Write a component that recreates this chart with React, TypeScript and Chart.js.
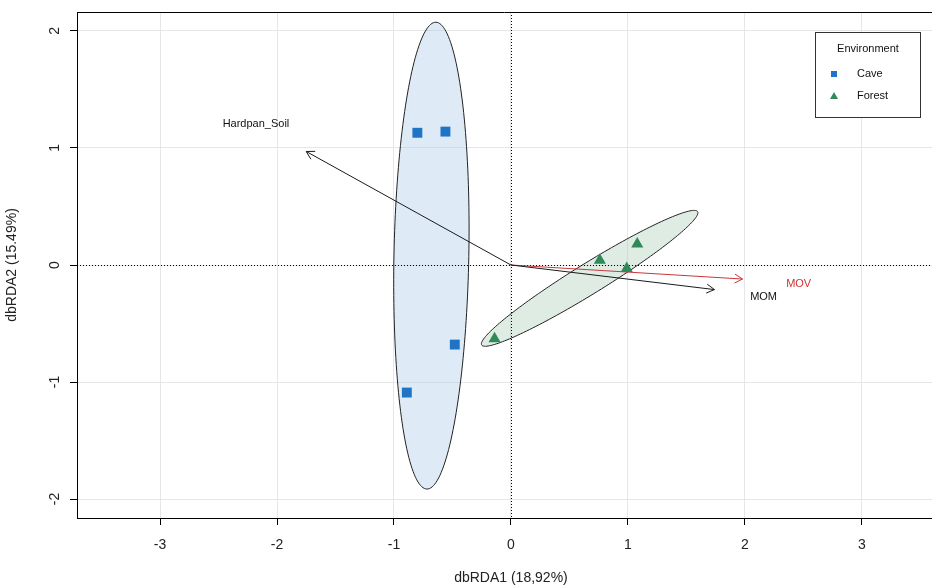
import { useEffect, useRef } from 'react';
import { Chart, registerables } from 'chart.js';

Chart.register(...registerables);

// ---- data ----
const groups = ['Cave', 'Forest'];
const groupColors = ['#1f74c6', '#2e8b57'];
const caveX = [-0.80, -0.56, -0.48, -0.89];
const caveY = [1.13, 1.14, -0.68, -1.09];
const forestX = [-0.14, 0.76, 0.99, 1.08];
const forestY = [-0.63, 0.04, -0.03, 0.18];

const vectorNames = ['Hardpan_Soil', 'MOM', 'MOV'];
const vectorX = [-1.75, 1.74, 1.98];
const vectorY = [0.97, -0.21, -0.12];
const vectorColors = ['#1a1a1a', '#1a1a1a', '#c8373a'];
const vectorLabelX = [-2.18, 2.16, 2.46];
const vectorLabelY = [1.205, -0.275, -0.16];

// ellipse: centerX, centerY, semi-major, semi-minor, angle (deg)
const caveEllipse = [-0.68, 0.08, 1.995, 0.32, 88.9];
const forestEllipse = [0.673, -0.114, 1.085, 0.13, 31.7];
const ellipseFills = ['rgba(161,198,232,0.35)', 'rgba(172,206,184,0.38)'];

const xTicks = [-3, -2, -1, 0, 1, 2, 3];
const yTicks = [-2, -1, 0, 1, 2];
const xRange = [-3.71, 3.6];
const yRange = [-2.162, 2.162];
const xTitle = 'dbRDA1 (18,92%)';
const yTitle = 'dbRDA2 (15.49%)';
const legendTitle = 'Environment';

const FONT = '"Liberation Sans", Arial, sans-serif';

function ellipsePath(ctx: CanvasRenderingContext2D, xs: any, ys: any, e: number[]) {
  const [cx, cy, a, b, ang] = e;
  const t = (ang * Math.PI) / 180;
  ctx.beginPath();
  const n = 180;
  for (let i = 0; i <= n; i++) {
    const th = (i / n) * Math.PI * 2;
    const ux = a * Math.cos(th);
    const uy = b * Math.sin(th);
    const dx = cx + ux * Math.cos(t) - uy * Math.sin(t);
    const dy = cy + ux * Math.sin(t) + uy * Math.cos(t);
    const px = xs.getPixelForValue(dx);
    const py = ys.getPixelForValue(dy);
    if (i === 0) ctx.moveTo(px, py);
    else ctx.lineTo(px, py);
  }
  ctx.closePath();
}

const customPlugin = {
  id: 'custom',
  beforeDatasetsDraw(chart: any) {
    const { ctx, chartArea: ca, scales } = chart;
    const xs = scales.x;
    const ys = scales.y;
    ctx.save();
    ctx.beginPath();
    ctx.rect(ca.left, ca.top, ca.right - ca.left, ca.bottom - ca.top);
    ctx.clip();
    // ellipses
    [caveEllipse, forestEllipse].forEach((e, i) => {
      ellipsePath(ctx, xs, ys, e);
      ctx.fillStyle = ellipseFills[i];
      ctx.fill();
      ctx.strokeStyle = '#222';
      ctx.lineWidth = 1;
      ctx.stroke();
    });
    // zero lines
    ctx.setLineDash([1, 2]);
    ctx.strokeStyle = '#000';
    ctx.lineWidth = 1;
    const x0 = Math.round(xs.getPixelForValue(0)) + 0.5;
    const y0 = Math.round(ys.getPixelForValue(0)) + 0.5;
    ctx.beginPath();
    ctx.moveTo(x0, ca.top);
    ctx.lineTo(x0, ca.bottom);
    ctx.moveTo(ca.left, y0);
    ctx.lineTo(ca.right, y0);
    ctx.stroke();
    ctx.setLineDash([]);
    ctx.restore();
  },
  afterDatasetsDraw(chart: any) {
    const { ctx, chartArea: ca, scales } = chart;
    const xs = scales.x;
    const ys = scales.y;
    ctx.save();
    // arrowheads
    vectorNames.forEach((_, i) => {
      const x1 = xs.getPixelForValue(0);
      const y1 = ys.getPixelForValue(0);
      const x2 = xs.getPixelForValue(vectorX[i]);
      const y2 = ys.getPixelForValue(vectorY[i]);
      const ang = Math.atan2(y2 - y1, x2 - x1);
      const L = 9;
      const w = Math.PI / 6;
      ctx.strokeStyle = vectorColors[i];
      ctx.lineWidth = 1;
      ctx.beginPath();
      ctx.moveTo(x2 - L * Math.cos(ang - w), y2 - L * Math.sin(ang - w));
      ctx.lineTo(x2, y2);
      ctx.lineTo(x2 - L * Math.cos(ang + w), y2 - L * Math.sin(ang + w));
      ctx.stroke();
      ctx.fillStyle = vectorColors[i] === '#1a1a1a' ? '#111' : '#cc3333';
      ctx.font = `11px ${FONT}`;
      ctx.textAlign = 'center';
      ctx.textBaseline = 'middle';
      ctx.fillText(vectorNames[i], xs.getPixelForValue(vectorLabelX[i]), ys.getPixelForValue(vectorLabelY[i]));
    });

    // top border
    ctx.strokeStyle = '#000';
    ctx.lineWidth = 1;
    ctx.beginPath();
    ctx.moveTo(ca.left, Math.round(ca.top) + 0.5);
    ctx.lineTo(ca.right, Math.round(ca.top) + 0.5);
    ctx.stroke();

    // tick labels
    ctx.fillStyle = '#222';
    ctx.font = `14px ${FONT}`;
    ctx.textAlign = 'center';
    ctx.textBaseline = 'middle';
    xTicks.forEach((v) => {
      ctx.fillText(String(v), xs.getPixelForValue(v), 545);
    });
    yTicks.forEach((v) => {
      ctx.save();
      ctx.translate(55, ys.getPixelForValue(v));
      ctx.rotate(-Math.PI / 2);
      ctx.fillText(String(v), 0, 0);
      ctx.restore();
    });
    // axis titles
    ctx.fillText(xTitle, xs.getPixelForValue(0), 578);
    ctx.save();
    ctx.translate(12, ys.getPixelForValue(0));
    ctx.rotate(-Math.PI / 2);
    ctx.fillText(yTitle, 0, 0);
    ctx.restore();

    // legend
    const lx = 815.5, ly = 32.5, lw = 105, lh = 85;
    ctx.fillStyle = '#fff';
    ctx.fillRect(lx, ly, lw, lh);
    ctx.strokeStyle = '#333';
    ctx.strokeRect(lx, ly, lw, lh);
    ctx.fillStyle = '#111';
    ctx.font = `11px ${FONT}`;
    ctx.textAlign = 'center';
    ctx.fillText(legendTitle, lx + lw / 2, 49);
    const rowY = [74, 96];
    groups.forEach((g, i) => {
      const my = rowY[i];
      ctx.fillStyle = groupColors[i];
      if (i === 0) {
        ctx.fillRect(831, my - 3, 6, 6);
      } else {
        ctx.beginPath();
        ctx.moveTo(834, my - 4);
        ctx.lineTo(838, my + 3);
        ctx.lineTo(830, my + 3);
        ctx.closePath();
        ctx.fill();
      }
      ctx.fillStyle = '#111';
      ctx.textAlign = 'left';
      ctx.fillText(g, 857, my);
    });
    ctx.restore();
  },
};

export default function App() {
  const ref = useRef<HTMLCanvasElement | null>(null);
  useEffect(() => {
    if (!ref.current) return;
    const datasets: any[] = [
      {
        label: groups[0],
        data: caveX.map((v, i) => ({ x: v, y: caveY[i] })),
        pointStyle: 'rect',
        pointRadius: 7,
        backgroundColor: groupColors[0],
        borderWidth: 0,
        showLine: false,
      },
      {
        label: groups[1],
        data: forestX.map((v, i) => ({ x: v, y: forestY[i] })),
        pointStyle: 'triangle',
        pointRadius: 7,
        backgroundColor: groupColors[1],
        borderWidth: 0,
        showLine: false,
      },
      ...vectorNames.map((n, i) => ({
        label: n,
        data: [
          { x: 0, y: 0 },
          { x: vectorX[i], y: vectorY[i] },
        ],
        showLine: true,
        borderColor: vectorColors[i],
        borderWidth: 1,
        pointRadius: 0,
        fill: false,
      })),
    ];
    const chart = new Chart(ref.current, {
      type: 'scatter',
      data: { datasets },
      options: {
        animation: false,
        responsive: false,
        layout: { autoPadding: false, padding: { top: 12, right: 0, left: 0, bottom: 0 } },
        plugins: { legend: { display: false }, tooltip: { enabled: false } },
        scales: {
          x: {
            type: 'linear',
            min: xRange[0],
            max: xRange[1],
            afterBuildTicks: (s: any) => {
              s.ticks = xTicks.map((v) => ({ value: v }));
            },
            afterFit: (s: any) => {
              s.height = 69;
            },
            ticks: { display: false },
            grid: { color: '#e6e6e6', tickColor: '#000', tickLength: 7, lineWidth: 1 },
            border: { display: true, color: '#000', width: 1 },
          },
          y: {
            type: 'linear',
            min: yRange[0],
            max: yRange[1],
            afterBuildTicks: (s: any) => {
              s.ticks = yTicks.map((v) => ({ value: v }));
            },
            afterFit: (s: any) => {
              s.width = 77;
            },
            ticks: { display: false },
            grid: { color: '#e6e6e6', tickColor: '#000', tickLength: 7, lineWidth: 1 },
            border: { display: true, color: '#000', width: 1 },
          },
        },
      } as any,
      plugins: [customPlugin],
    });
    return () => chart.destroy();
  }, []);
  return (
    <div style={{ position: 'fixed', left: 0, top: 0, width: 932, height: 587, background: '#fff' }}>
      <canvas ref={ref} width={932} height={587} style={{ width: 932, height: 587, display: 'block' }} />
    </div>
  );
}
